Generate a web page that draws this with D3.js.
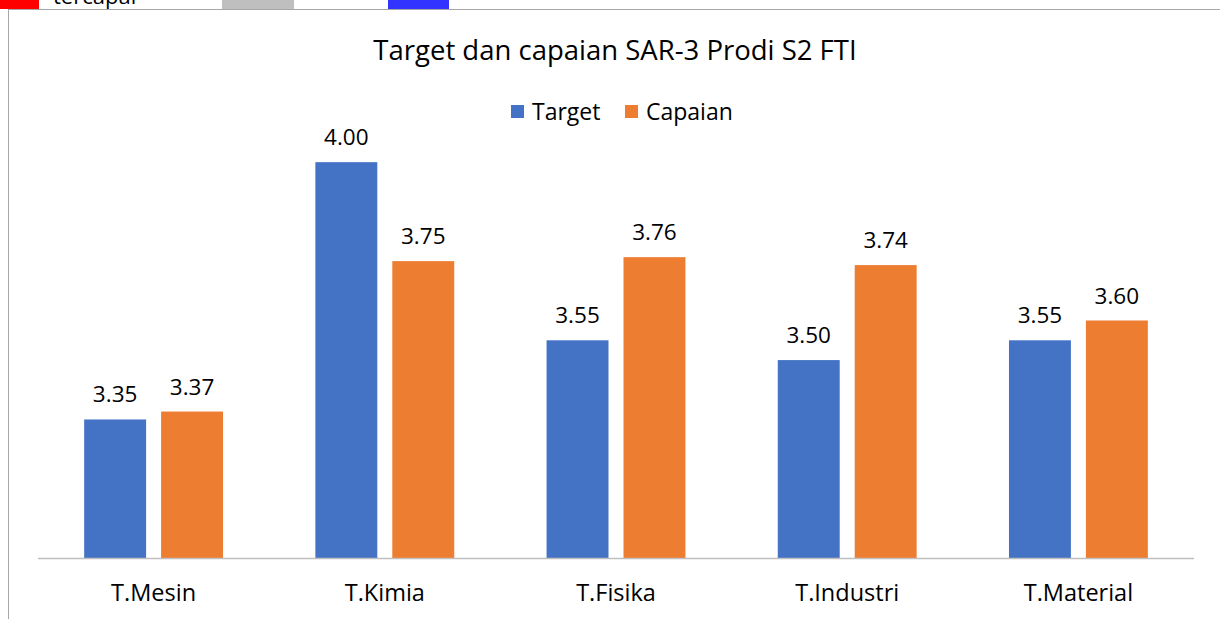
<!DOCTYPE html>
<html>
<head>
<meta charset="utf-8">
<script src="https://cdn.jsdelivr.net/npm/d3@7"></script>
<style>
  body { margin: 0; background: #fff; }
  svg { display: block; font-family: "Open Sans", Lato, sans-serif; }
</style>
</head>
<body>
<div id="chart"></div>
<script>
const categories = ["T.Mesin", "T.Kimia", "T.Fisika", "T.Industri", "T.Material"]
const seriesNames = ["Target", "Capaian"]
const target = [3.35, 4.00, 3.55, 3.50, 3.55]
const capaian = [3.37, 3.75, 3.76, 3.74, 3.60]
const colors = ["#4472c4", "#ed7d31"]

const width = 1220
const height = 619

const svg = d3.select("#chart")
  .append("svg")
  .attr("width", width)
  .attr("height", height)

// leftovers of the sheet above the chart
svg.append("rect").attr("x", 0).attr("y", 0).attr("width", 39).attr("height", 9).attr("fill", "#ff0000")
svg.append("rect").attr("x", 222).attr("y", 0).attr("width", 72).attr("height", 9).attr("fill", "#bfbfbf")
svg.append("rect").attr("x", 388).attr("y", 0).attr("width", 61).attr("height", 9).attr("fill", "#3333ff")
svg.append("text").attr("x", 53).attr("y", 4).attr("font-size", 22).attr("fill", "#000").text("tercapai")

// chart frame
svg.append("rect").attr("x", 8.5).attr("y", 9.5).attr("width", 1230).attr("height", 700)
  .attr("fill", "#fff").attr("stroke", "#a6a6a6").attr("stroke-width", 1)

const x0 = d3.scaleBand().domain(categories).range([38, 1194])
const x1 = d3.scaleBand().domain(seriesNames).range([0, x0.bandwidth()]).paddingInner(0.195).paddingOuter(0.6)
const y = d3.scaleLinear().domain([3, 4.2]).range([558, 83])

const data = categories.map((c, i) => ({ cat: c, values: [target[i], capaian[i]] }))

const groups = svg.append("g")
  .selectAll("g")
  .data(data)
  .join("g")
  .attr("transform", d => `translate(${x0(d.cat)},0)`)

groups.selectAll("rect")
  .data(d => d.values.map((v, k) => ({ name: seriesNames[k], v, k })))
  .join("rect")
  .attr("x", d => x1(d.name))
  .attr("y", d => y(d.v))
  .attr("width", x1.bandwidth())
  .attr("height", d => y(3) - y(d.v))
  .attr("fill", d => colors[d.k])

groups.selectAll("text.val")
  .data(d => d.values.map((v, k) => ({ name: seriesNames[k], v, k })))
  .join("text")
  .attr("class", "val")
  .attr("x", d => x1(d.name) + x1.bandwidth() / 2)
  .attr("y", d => y(d.v) - 17)
  .attr("text-anchor", "middle")
  .attr("font-size", 22.5)
  .attr("fill", "#000")
  .text(d => d.v.toFixed(2))

// baseline
svg.append("line").attr("x1", 38).attr("x2", 1194).attr("y1", 558.5).attr("y2", 558.5)
  .attr("stroke", "#bfbfbf").attr("stroke-width", 1.5)

// category labels
svg.append("g")
  .selectAll("text")
  .data(categories)
  .join("text")
  .attr("x", d => x0(d) + x0.bandwidth() / 2)
  .attr("y", 601)
  .attr("text-anchor", "middle")
  .attr("font-size", 23.5)
  .attr("fill", "#000")
  .text(d => d)

// title
svg.append("text").attr("x", 615).attr("y", 60).attr("text-anchor", "middle")
  .attr("font-size", 27.5).attr("fill", "#000").text("Target dan capaian SAR-3 Prodi S2 FTI")

// legend
const legendX = [511, 625]
const legend = svg.append("g")
  .selectAll("g")
  .data(seriesNames)
  .join("g")
  .attr("transform", (d, i) => `translate(${legendX[i]},105)`)
legend.append("rect").attr("width", 13).attr("height", 13).attr("fill", (d, i) => colors[i])
legend.append("text").attr("x", 21).attr("y", 15).attr("font-size", 23).attr("fill", "#000").text(d => d)
</script>
</body>
</html>
